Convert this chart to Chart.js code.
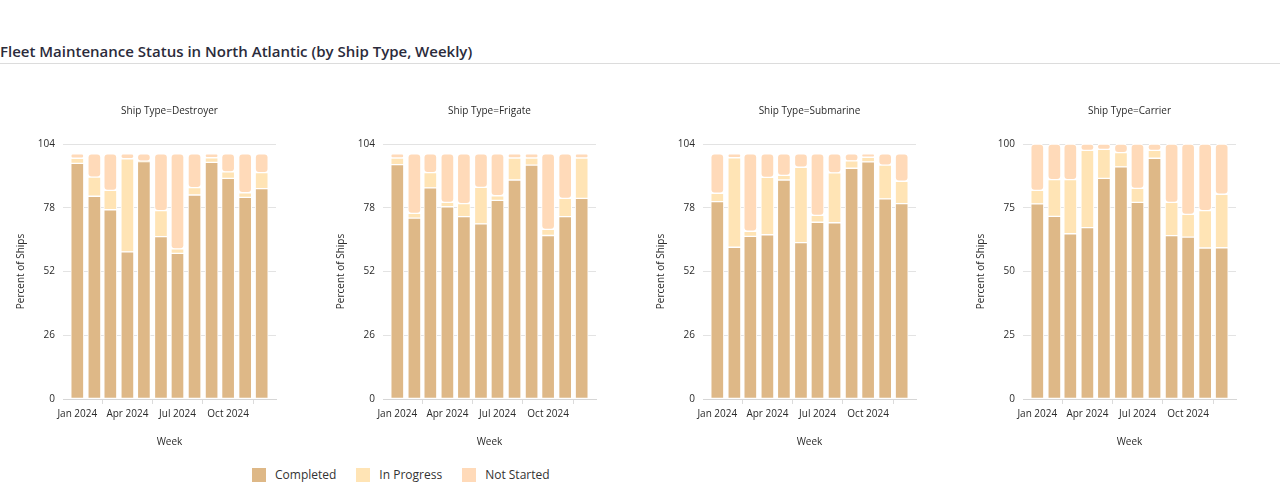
<!DOCTYPE html>
<html>
<head>
<meta charset="utf-8">
<script src="https://cdn.jsdelivr.net/npm/chart.js@4.4.1/dist/chart.umd.min.js"></script>
<style>
  html, body { margin: 0; padding: 0; background: #fff; }
  body { width: 1280px; height: 494px; position: relative; overflow: hidden; font-family: "Open Sans", sans-serif; }
  #title { position: absolute; left: 0; top: 41px; font-size: 15px; font-weight: 600; color: #2b2b3b; white-space: nowrap; }
  #rule { position: absolute; left: 0; right: 0; top: 63px; height: 1px; background: #dcdcdc; }
  .panel { position: absolute; top: 95px; width: 320px; height: 360px; }
  #legend { position: absolute; top: 466px; left: 252px; display: flex; font-size: 12px; color: #333; }
  #legend .item { display: flex; align-items: center; margin-right: 20px; }
  #legend .sw { width: 14px; height: 14px; margin-right: 9px; }
</style>
</head>
<body>
<div id="title">Fleet Maintenance Status in North Atlantic (by Ship Type, Weekly)</div>
<div id="rule"></div>
<canvas id="c0" class="panel" width="320" height="360" style="left:0px"></canvas>
<canvas id="c1" class="panel" width="320" height="360" style="left:320px"></canvas>
<canvas id="c2" class="panel" width="320" height="360" style="left:640px"></canvas>
<canvas id="c3" class="panel" width="320" height="360" style="left:960px"></canvas>
<div id="legend"></div>
<script>
// period start dates (one bar each)
const weeks = ["2024-01-01", "2024-02-01", "2024-03-01", "2024-04-01", "2024-05-01", "2024-06-01",
               "2024-07-01", "2024-08-01", "2024-09-01", "2024-10-01", "2024-11-01", "2024-12-01"];
const tickDates = ["2024-01-01", "2024-04-01", "2024-07-01", "2024-10-01"];
const tickLabels = ["Jan 2024", "Apr 2024", "Jul 2024", "Oct 2024"];

const statuses = ["Completed", "In Progress", "Not Started"];
const statusColors = ["#DEB887", "#FFE4B5", "#FFDAB9"];

const shipTypes = ["Destroyer", "Frigate", "Submarine", "Carrier"];
const yMax = [104, 104, 104, 100];
const yStep = [26, 26, 26, 25];

const destroyerCompleted  = [96.1, 82.7, 77.2, 60.0, 96.8, 66.2, 59.4, 83.2, 96.5, 90.0, 82.2, 85.8];
const destroyerInProgress = [2.1, 7.8, 7.9, 38.0, 0.2, 10.6, 1.8, 3.0, 1.9, 2.6, 1.9, 6.5];
const destroyerNotStarted = [1.8, 9.5, 14.9, 2.0, 3.0, 23.2, 38.8, 13.8, 1.6, 7.4, 15.9, 7.7];

const frigateCompleted  = [95.6, 73.8, 86.1, 78.4, 74.4, 71.4, 81.0, 89.3, 95.4, 66.7, 74.4, 81.8];
const frigateInProgress = [2.7, 1.9, 6.2, 1.8, 5.3, 14.9, 1.9, 9.0, 2.9, 2.5, 7.4, 16.5];
const frigateNotStarted = [1.7, 24.3, 7.7, 19.8, 20.3, 13.7, 17.1, 1.7, 1.7, 30.8, 18.2, 1.7];

const submarineCompleted  = [80.5, 61.9, 66.3, 67.0, 89.3, 63.8, 72.1, 71.9, 94.1, 96.7, 81.6, 79.7];
const submarineInProgress = [3.4, 36.5, 2.1, 23.4, 1.9, 30.7, 2.8, 20.3, 3.0, 1.9, 13.8, 9.1];
const submarineNotStarted = [16.1, 1.6, 31.6, 9.6, 8.8, 5.5, 25.1, 7.8, 2.9, 1.4, 4.6, 11.2];

const carrierCompleted  = [76.5, 71.6, 64.8, 67.2, 86.5, 91.0, 77.1, 94.4, 64.1, 63.5, 59.2, 59.3];
const carrierInProgress = [5.3, 14.4, 21.2, 30.3, 11.4, 5.6, 5.5, 3.1, 13.0, 8.9, 14.7, 21.0];
const carrierNotStarted = [18.2, 14.0, 14.0, 2.5, 2.1, 3.4, 17.4, 2.5, 22.9, 27.6, 26.1, 19.7];

const seriesByShip = [
  [destroyerCompleted, destroyerInProgress, destroyerNotStarted],
  [frigateCompleted, frigateInProgress, frigateNotStarted],
  [submarineCompleted, submarineInProgress, submarineNotStarted],
  [carrierCompleted, carrierInProgress, carrierNotStarted]
];

// day offset from the first period, so months keep their real spacing
const DAY = 86400000;
const t0 = Date.parse(weeks[0]);
const dayOf = d => Math.round((Date.parse(d) - t0) / DAY);
const tickDays = tickDates.map(dayOf);

const font = { family: "'Open Sans', sans-serif", size: 10 };
const textColor = "#2a2a2a";
const gridColor = "#e3e3e3";

// panel title centred over the plot area, not the whole canvas
const panelTitle = {
  id: "panelTitle",
  afterDraw(chart, args, opts) {
    const c = chart.ctx, a = chart.chartArea;
    c.save();
    c.font = font.size + "px " + font.family;
    c.fillStyle = textColor;
    c.textAlign = "center";
    c.textBaseline = "middle";
    c.fillText(opts.text, (a.left + a.right) / 2, 16);
    c.restore();
  }
};

shipTypes.forEach(function (ship, i) {
  const ctx = document.getElementById("c" + i).getContext("2d");
  const datasets = statuses.map((name, k) => ({
    label: name,
    data: weeks.map((w, j) => ({ x: dayOf(w), y: seriesByShip[i][k][j] })),
    backgroundColor: statusColors[k],
    borderColor: "#ffffff",
    borderWidth: 1,
    borderRadius: 4,
    borderSkipped: false,
    barThickness: 13
  }));

  new Chart(ctx, {
    type: "bar",
    data: { datasets: datasets },
    plugins: [panelTitle],
    options: {
      responsive: false,
      animation: false,
      layout: { padding: { left: 0, right: 44, top: 49, bottom: 0 } },
      plugins: {
        legend: { display: false },
        tooltip: { enabled: false },
        title: { display: false },
        panelTitle: { text: "Ship Type=" + ship }
      },
      scales: {
        x: {
          type: "linear",
          stacked: true,
          offset: false,
          min: -26,
          max: 361,
          afterBuildTicks: function (scale) {
            scale.ticks = tickDays.map(v => ({ value: v }));
          },
          afterFit: function (scale) { scale.height = 56; },
          ticks: {
            color: textColor,
            font: font,
            padding: 4,
            maxRotation: 0,
            autoSkip: false,
            callback: function (value) {
              const idx = tickDays.indexOf(value);
              return idx >= 0 ? tickLabels[idx] : "";
            }
          },
          grid: { drawOnChartArea: false, drawTicks: true, tickLength: 5, color: "#dcdcdc" },
          border: { display: true, color: "#d6d6d6" },
          title: { display: true, text: "Week", color: textColor, font: font, padding: { top: 0, bottom: 7 } }
        },
        y: {
          stacked: true,
          min: 0,
          max: yMax[i],
          afterFit: function (scale) { scale.width = 63; },
          ticks: { stepSize: yStep[i], color: textColor, font: font, padding: 8 },
          grid: { color: gridColor, drawTicks: false },
          border: { display: false },
          title: { display: true, text: "Percent of Ships", color: textColor, font: font, padding: { top: 15, bottom: 0 } }
        }
      }
    }
  });
});

// legend built from the status names and colours
const legend = document.getElementById("legend");
statuses.forEach(function (name, k) {
  const item = document.createElement("div");
  item.className = "item";
  item.innerHTML = '<span class="sw" style="background:' + statusColors[k] + '"></span><span>' + name + '</span>';
  legend.appendChild(item);
});
</script>
</body>
</html>
